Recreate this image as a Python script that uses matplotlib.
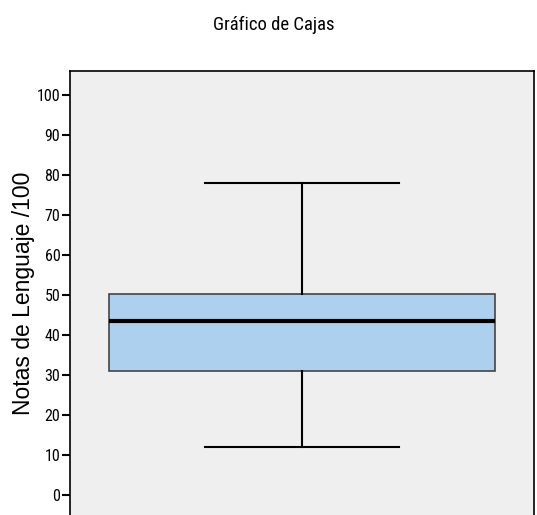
import matplotlib.pyplot as plt

# box plot summary values
q1 = 31.0
median = 43.5
q3 = 50.2
whisker_low = 12.0
whisker_high = 78.0
yticks = [0, 10, 20, 30, 40, 50, 60, 70, 80, 90, 100]

narrow = ['Roboto Condensed', 'Liberation Sans']

fig = plt.figure(figsize=(5.37, 5.15), dpi=100)
ax = fig.add_axes([70 / 537, 0.0, 464 / 537, 1 - 71 / 515])
ax.set_facecolor('#efefef')

stats = [{'med': median, 'q1': q1, 'q3': q3,
          'whislo': whisker_low, 'whishi': whisker_high, 'fliers': []}]
ax.bxp(stats, positions=[1], widths=0.832, capwidths=0.418, patch_artist=True,
       boxprops=dict(facecolor='#add0ee', edgecolor='#444444', linewidth=1.2),
       medianprops=dict(color='black', linewidth=3),
       whiskerprops=dict(color='black', linewidth=1.5),
       capprops=dict(color='black', linewidth=1.5))

ax.set_xlim(0.5, 1.5)
ax.set_ylim(-5, 106)
ax.set_xticks([])
ax.set_yticks(yticks)
ax.set_yticklabels([str(t) for t in yticks], fontfamily=narrow, fontsize=11.5)
ax.tick_params(axis='y', direction='out', length=6, width=1.5, pad=1)
for s in ['left', 'right', 'top']:
    ax.spines[s].set_linewidth(1.2)
ax.spines['bottom'].set_visible(False)

ax.set_ylabel('Notas de Lenguaje /100', fontfamily='Liberation Sans', fontsize=16.5, labelpad=1)
fig.text(0.509, 0.952, 'Gráfico de Cajas', ha='center', va='center',
         fontfamily=narrow, fontsize=13.5)

fig.savefig('out.png', dpi=100)
